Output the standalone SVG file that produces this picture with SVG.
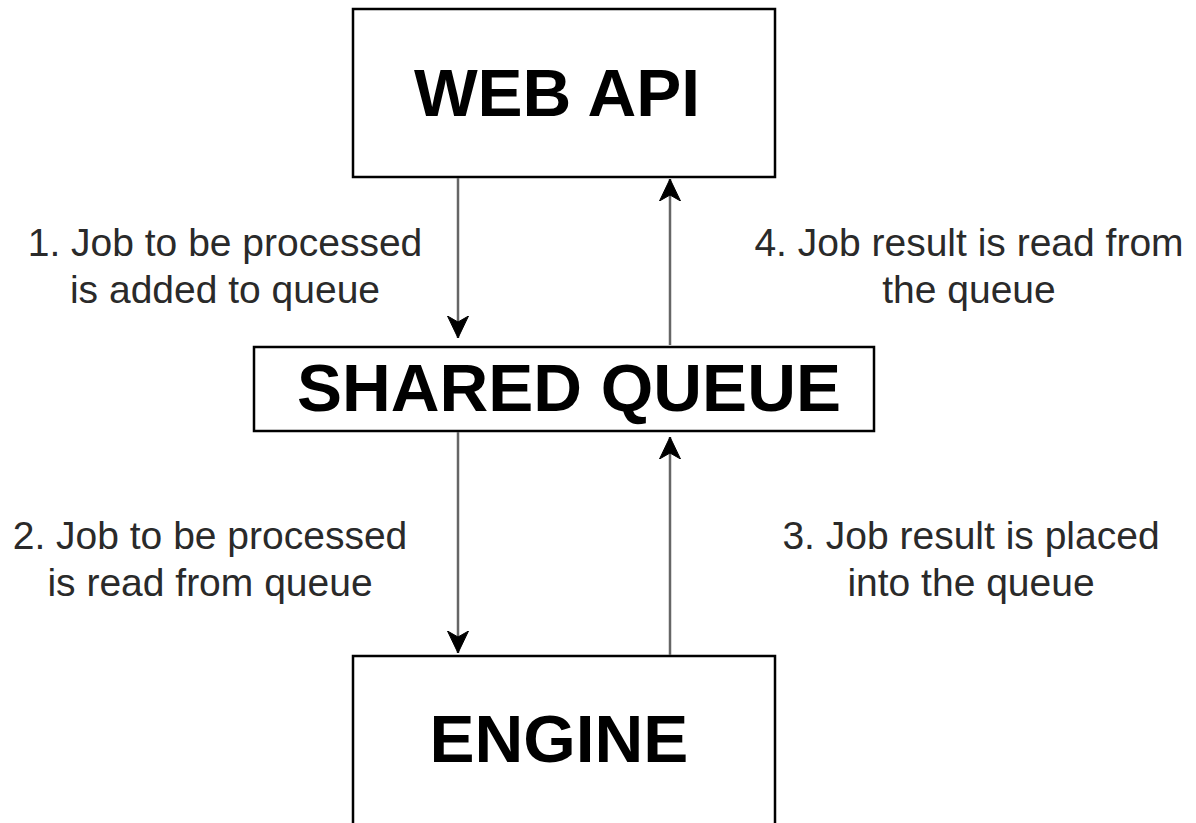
<svg xmlns="http://www.w3.org/2000/svg" width="1196" height="823" viewBox="0 0 1196 823">
  <style>
    .box { fill: #ffffff; stroke: #000000; stroke-width: 2.5; }
    .title { font-family: "Liberation Sans", Arial, sans-serif; font-weight: bold; font-size: 67.5px; fill: #000000; text-anchor: middle; }
    .label { font-family: "Liberation Sans", Arial, sans-serif; font-size: 39px; fill: #2a2a2a; text-anchor: middle; }
    .edge { stroke: #666666; stroke-width: 2.5; fill: none; }
  </style>
  <defs>
    <!-- classic notched arrowhead -->
    <marker id="arrow" viewBox="0 0 22 22" refX="22" refY="11" markerWidth="22" markerHeight="22" markerUnits="userSpaceOnUse" orient="auto">
      <path d="M0,0.5 L22,11 L0,21.5 L6,11 Z" fill="#000000" stroke="#000000" stroke-width="1" stroke-linejoin="round"/>
    </marker>
  </defs>

  <rect width="1196" height="823" fill="#ffffff"/>

  <g id="web-api">
    <rect class="box" x="353" y="9" width="422" height="168"/>
    <text class="title" x="557" y="116">WEB API</text>
  </g>

  <g id="shared-queue">
    <rect class="box" x="254" y="347" width="620" height="84"/>
    <text class="title" x="569" y="411">SHARED QUEUE</text>
  </g>

  <g id="engine">
    <rect class="box" x="353" y="656" width="422" height="200"/>
    <text class="title" x="559" y="762">ENGINE</text>
  </g>

  <g id="connectors">
    <line class="edge" x1="458" y1="178" x2="458" y2="338" marker-end="url(#arrow)"/>
    <line class="edge" x1="670" y1="345" x2="670" y2="179" marker-end="url(#arrow)"/>
    <line class="edge" x1="458" y1="432" x2="458" y2="653" marker-end="url(#arrow)"/>
    <line class="edge" x1="670" y1="655" x2="670" y2="437" marker-end="url(#arrow)"/>
  </g>

  <g id="labels">
    <text class="label" x="225" y="256">1. Job to be processed</text>
    <text class="label" x="225" y="303">is added to queue</text>
    <text class="label" x="969" y="256">4. Job result is read from</text>
    <text class="label" x="969" y="303">the queue</text>
    <text class="label" x="210" y="549">2. Job to be processed</text>
    <text class="label" x="210" y="596">is read from queue</text>
    <text class="label" x="971" y="549">3. Job result is placed</text>
    <text class="label" x="971" y="596">into the queue</text>
  </g>
</svg>
